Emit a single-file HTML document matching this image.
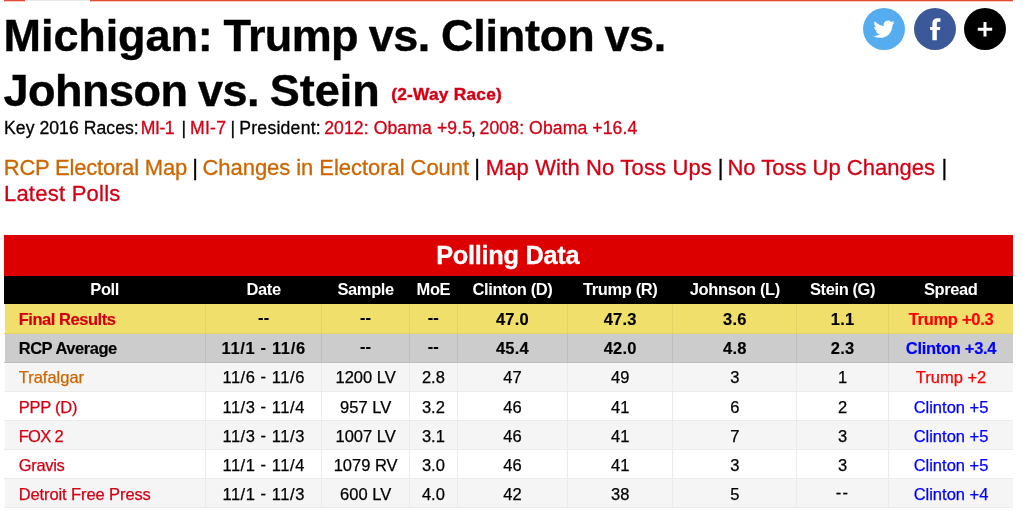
<!DOCTYPE html>
<html lang="en">
<head>
<meta charset="utf-8">
<title>Michigan: Trump vs. Clinton vs. Johnson vs. Stein</title>
<style>
html,body{margin:0;padding:0;background:#fff;}
body{width:1023px;height:511px;overflow:hidden;position:relative;font-family:"Liberation Sans",sans-serif;color:#000;}
a{text-decoration:none;}
.topline{position:absolute;left:4px;top:0;width:1009px;height:1px;background:#e34b38;box-shadow:0 1px 0 rgba(227,75,56,0.3);}
.toptab{position:absolute;left:25px;top:0;width:65px;height:2px;background:#fff;border-top:1px solid #e9e9e9;box-sizing:border-box;}
h1{position:absolute;left:0;top:0;margin:0;font-size:45px;line-height:54px;font-weight:bold;}
h1 span{position:absolute;top:9px;white-space:pre;-webkit-text-stroke:0.4px #000;}
h1 span.l2{top:64px;}
h1 span.sub{font-size:17.3px;line-height:20px;color:#d30015;font-weight:bold;letter-spacing:0.25px;top:84px;left:391.2px;-webkit-text-stroke:0.4px #d30015;}
.share{position:absolute;top:8px;width:42px;height:42px;border-radius:50%;}
.share svg{position:absolute;left:0;top:0;width:42px;height:42px;display:block;}
.keys,.links{position:absolute;left:0;top:0;}
.keys span,.keys a,.links span,.links a{position:absolute;white-space:pre;-webkit-text-stroke:0.3px;}
.keys span,.keys a{top:118px;font-size:17.6px;line-height:20px;}
.links span,.links a{top:154.5px;font-size:22px;line-height:26px;}
.keys a,.links a{color:#d30015;}
.links a.o{color:#cc6600;}
table{position:absolute;left:3.5px;top:235px;width:1009px;border-collapse:collapse;table-layout:fixed;font-size:16.5px;}
td,th{padding:0;height:29px;box-sizing:border-box;text-align:center;border:1px solid #ebebeb;border-top:0;white-space:nowrap;overflow:hidden;letter-spacing:0;line-height:20px;vertical-align:top;}
td{padding-top:5px;-webkit-text-stroke:0.25px;}
th{letter-spacing:-0.4px;}
tr.final td,tr.avg td{letter-spacing:0.25px;-webkit-text-stroke:0.15px;}
tr.final td:first-child,tr.avg td:first-child{letter-spacing:-0.45px;}
tr.final td:last-child,tr.avg td:last-child{letter-spacing:-0.3px;}
td.dt{letter-spacing:0.55px;}
td.dd{letter-spacing:1.2px;}
td.dd span{position:relative;top:-2px;}
td.dt i{font-style:normal;position:relative;top:-1px;}
tr.avg td.dt{letter-spacing:0.65px;}
tr.avg td,tr.t1 td{padding-top:4px;}
tr.title th{background:#dc0000;color:#fff;font-size:25.3px;height:41px;border:0;font-weight:bold;letter-spacing:-0.25px;line-height:41px;padding:0 1.5px 0 0;-webkit-text-stroke:0.3px #fff;}
tr.head th{background:#000;color:#fff;height:28px;border:0;font-weight:bold;padding-top:3px;}
tr.final td{background:#f0df6b;font-weight:bold;border-color:#e3d468;}
tr.avg td{background:#cccccc;font-weight:bold;border-color:#bdbdbd;}
tr.alt td{background:#f5f5f5;}
td:first-child{text-align:left;padding-left:14.2px;border-left-color:#fff !important;}
td:last-child{border-right:0;}
td a{color:#d30015;}
td a.o{color:#cc6600;}
.dem{color:#0000ff;}
.rep{color:#ff0000;}
</style>
</head>
<body>
<div class="topline"></div><div class="toptab"></div>
<h1><span style="left:3.6px;letter-spacing:-0.1px">Michigan: </span><span style="left:223.6px;letter-spacing:-0.65px">Trump </span><span style="left:368.7px;letter-spacing:-0.55px">vs. </span><span style="left:440.9px;letter-spacing:-0.2px">Clinton </span><span style="left:604.4px;letter-spacing:-0.3px">vs. </span><span class="l2" style="left:3.6px;letter-spacing:-0.5px">Johnson </span><span class="l2" style="left:197.9px;letter-spacing:-0.5px">vs. </span><span class="l2" style="left:269.8px;letter-spacing:-0.05px">Stein </span><span class="sub">(2-Way Race)</span></h1>
<div class="share" style="left:863px;background:#55acee;"><svg viewBox="0 0 42 42"><path fill="#fff" transform="translate(21 21.2) scale(0.885 0.889) translate(-12 -12)" d="M23.953 4.57a10 10 0 01-2.825.775 4.958 4.958 0 002.163-2.723c-.951.555-2.005.959-3.127 1.184a4.92 4.92 0 00-8.384 4.482C7.69 8.095 4.067 6.13 1.64 3.162a4.822 4.822 0 00-.666 2.475c0 1.71.87 3.213 2.188 4.096a4.904 4.904 0 01-2.228-.616v.06a4.923 4.923 0 003.946 4.827 4.996 4.996 0 01-2.212.085 4.936 4.936 0 004.604 3.417 9.867 9.867 0 01-6.102 2.105c-.39 0-.779-.023-1.17-.067a13.995 13.995 0 007.557 2.209c9.053 0 13.998-7.496 13.998-13.985 0-.21 0-.42-.015-.63A9.935 9.935 0 0024 4.59z"/></svg></div>
<div class="share" style="left:914.2px;background:#3b5998;"><svg viewBox="0 0 42 42"><path fill="#fff" transform="translate(21.3 21.2) scale(1.14 1.257) translate(-12.15 -12.25)" d="M13.5 21v-8.1h2.7l.35-2.4h-3.05V7.9c0-.9.25-1.5 1.55-1.5h1.65V3.6c-.3-.04-1.3-.1-2.4-.1-2.7 0-4.7 1.45-4.7 4.1v2.9H7.6v2.4h2v8.1z"/></svg></div>
<div class="share" style="left:964.2px;background:#000;"><svg viewBox="0 0 42 42"><path fill="#fff" d="M19.5 14h3v5.8h5.7v3h-5.7v5.7h-3v-5.7h-5.7v-3h5.7z"/></svg></div>
<div class="keys"><span style="left:4.05px;letter-spacing:0.05px">Key 2016 Races:</span><a style="left:140.75px;letter-spacing:-0.45px">MI-1</a><span style="left:181.4px">|</span><a style="left:189.95px;letter-spacing:0.3px">MI-7</a><span style="left:230.6px">|</span><span style="left:239.25px;letter-spacing:0.25px">President:</span><a style="left:324.2px;letter-spacing:0.1px">2012: Obama +9.5</a><span style="left:470.9px">,</span><a style="left:479.6px;letter-spacing:0.1px">2008: Obama +16.4</a></div>
<div class="links"><a class="o" style="left:3.7px;letter-spacing:-0.2px">RCP Electoral Map</a><span style="left:192.3px">|</span><a class="o" style="left:202.5px;letter-spacing:-0.05px">Changes in Electoral Count</a><span style="left:474.3px">|</span><a style="left:485.7px;letter-spacing:0.15px">Map With No Toss Ups</a><span style="left:717.7px">|</span><a style="left:727.4px">No Toss Up Changes</a><span style="left:941.4px">|</span><a style="left:3.9px;top:180.5px;letter-spacing:0.25px">Latest Polls</a></div>
<table>
<colgroup><col style="width:201.3px"><col style="width:116.7px"><col style="width:87.3px"><col style="width:48.2px"><col style="width:110px"><col style="width:105.5px"><col style="width:123.7px"><col style="width:91.8px"><col style="width:124.5px"></colgroup>
<tr class="title"><th colspan="9">Polling Data</th></tr>
<tr class="head"><th>Poll</th><th>Date</th><th>Sample</th><th>MoE</th><th>Clinton (D)</th><th>Trump (R)</th><th>Johnson (L)</th><th>Stein (G)</th><th>Spread</th></tr>
<tr class="final"><td><a>Final Results</a></td><td class="dd"><span>--</span></td><td class="dd"><span>--</span></td><td class="dd"><span>--</span></td><td>47.0</td><td>47.3</td><td>3.6</td><td>1.1</td><td class="rep">Trump +0.3</td></tr>
<tr class="avg"><td>RCP Average</td><td class="dt">11/1 <i>-</i> 11/6</td><td class="dd"><span>--</span></td><td class="dd"><span>--</span></td><td>45.4</td><td>42.0</td><td>4.8</td><td>2.3</td><td class="dem">Clinton +3.4</td></tr>
<tr class="alt t1"><td><a class="o">Trafalgar</a></td><td class="dt">11/6 <i>-</i> 11/6</td><td>1200 LV</td><td>2.8</td><td>47</td><td>49</td><td>3</td><td>1</td><td class="rep">Trump +2</td></tr>
<tr><td style="letter-spacing:-0.25px"><a>PPP (D)</a></td><td class="dt">11/3 <i>-</i> 11/4</td><td>957 LV</td><td>3.2</td><td>46</td><td>41</td><td>6</td><td>2</td><td class="dem">Clinton +5</td></tr>
<tr class="alt"><td style="letter-spacing:-0.7px"><a>FOX 2</a></td><td class="dt">11/3 <i>-</i> 11/3</td><td>1007 LV</td><td>3.1</td><td>46</td><td>41</td><td>7</td><td>3</td><td class="dem">Clinton +5</td></tr>
<tr><td style="letter-spacing:-0.3px"><a>Gravis</a></td><td class="dt">11/1 <i>-</i> 11/4</td><td>1079 RV</td><td>3.0</td><td>46</td><td>41</td><td>3</td><td>3</td><td class="dem">Clinton +5</td></tr>
<tr class="alt"><td style="letter-spacing:-0.1px"><a>Detroit Free Press</a></td><td class="dt">11/1 <i>-</i> 11/3</td><td>600 LV</td><td>4.0</td><td>42</td><td>38</td><td>5</td><td class="dd"><span>--</span></td><td class="dem">Clinton +4</td></tr>
</table>
</body>
</html>
